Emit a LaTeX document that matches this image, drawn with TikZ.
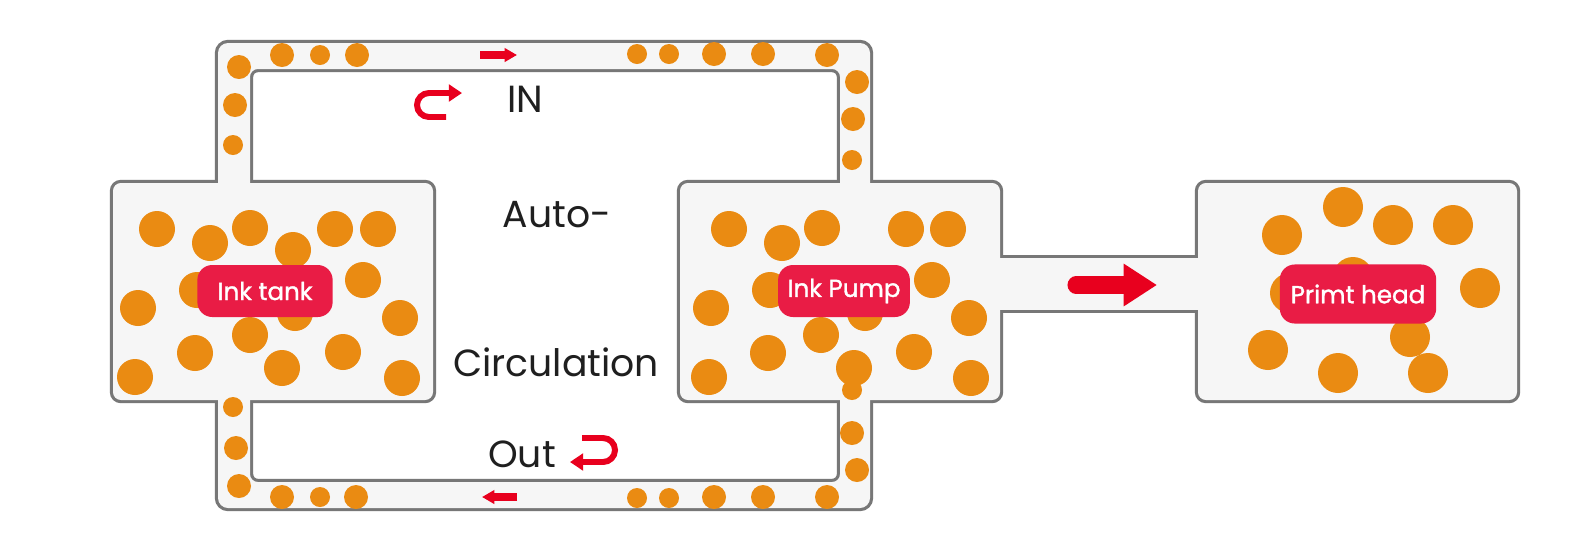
\documentclass[tikz,border=0pt]{standalone}
\usepackage{fontspec}
\setmainfont{Poppins}
\newfontfamily\badgefont{Poppins}[FakeBold=1.3]
\usepackage{tikz}
\usetikzlibrary{arrows.meta}
\definecolor{pipegray}{HTML}{777777}
\definecolor{fluid}{HTML}{F6F6F6}
\definecolor{ink}{HTML}{EA8B12}
\definecolor{flowred}{HTML}{E8001E}
\definecolor{badgered}{HTML}{E91C45}

\begin{document}
\begin{tikzpicture}[
  x=0.02cm, y=-0.02cm,
  outline/.style={draw=pipegray,line width=3.6pt},
  liquid/.style={fill=fluid},
  drop/.style={fill=ink},
  badge/.style={fill=badgered,text=white,rounded corners=8.5pt,inner sep=0pt,
    minimum height=29.6pt,font=\badgefont\fontsize{14}{16}\selectfont},
  lbl/.style={font=\fontsize{21.5}{25}\selectfont,text=black!88,anchor=base},
  flow/.style={draw=flowred,line width=3.4pt},
]
\useasboundingbox (0,0) rectangle (1572,559);
\fill[white] (0,0) rectangle (1572,559);

% walls first, the fill goes over the inner half
\draw[outline,rounded corners=4.5pt] (113,183) rectangle (433,400);
\draw[outline,rounded corners=4.5pt] (680,183) rectangle (1000,400);
\draw[outline,rounded corners=4.5pt] (1198,183) rectangle (1517,400);
\draw[outline] (990,258) rectangle (1210,310);
\draw[outline,rounded corners=5.7pt] (218,43) rectangle (870,508);
\draw[outline,rounded corners=4.5pt] (250,69) rectangle (840,482);

\fill[liquid,rounded corners=4.5pt] (113,183) rectangle (433,400);
\fill[liquid,rounded corners=4.5pt] (680,183) rectangle (1000,400);
\fill[liquid,rounded corners=4.5pt] (1198,183) rectangle (1517,400);
\fill[liquid] (990,258) rectangle (1210,310);
\fill[liquid,even odd rule] [rounded corners=5.7pt] (218,43) rectangle (870,508)
  [rounded corners=4.5pt] (250,69) rectangle (840,482);

% ink drops in the loop
\fill[drop] (239,67) circle[radius=12] (282,55) circle[radius=12] (320,55) circle[radius=10]
  (357,55) circle[radius=12] (637,54) circle[radius=10] (669,54) circle[radius=10]
  (714,54) circle[radius=12] (763,54) circle[radius=12] (827,55) circle[radius=12]
  (235,105) circle[radius=12] (233,145) circle[radius=10]
  (857,82) circle[radius=12] (853,119) circle[radius=12] (852,160) circle[radius=10]
  (233,407) circle[radius=10] (236,448) circle[radius=12] (239,486) circle[radius=12]
  (282,497) circle[radius=12] (320,497) circle[radius=10] (356,497) circle[radius=12]
  (637,498) circle[radius=10] (669,498) circle[radius=10] (714,497) circle[radius=12]
  (763,497) circle[radius=12] (827,497) circle[radius=12]
  (852,433) circle[radius=12] (857,470) circle[radius=12] (852,390) circle[radius=10];
% ink tank
\fill[drop] (157,229) circle[radius=18] (210,243) circle[radius=18] (250,228) circle[radius=18]
  (293,250) circle[radius=18] (335,229) circle[radius=18] (378,229) circle[radius=18]
  (197,290) circle[radius=18] (363,280) circle[radius=18] (138,308) circle[radius=18]
  (295,313) circle[radius=18] (400,318) circle[radius=18] (250,335) circle[radius=18]
  (195,353) circle[radius=18] (343,352) circle[radius=18] (282,368) circle[radius=18]
  (135,377) circle[radius=18] (402,378) circle[radius=18];
% ink pump
\fill[drop] (729,229) circle[radius=18] (782,243) circle[radius=18] (822,228) circle[radius=18]
  (906,229) circle[radius=18] (948,229) circle[radius=18] (770,290) circle[radius=18]
  (932,280) circle[radius=18] (711,308) circle[radius=18] (865,313) circle[radius=18]
  (969,318) circle[radius=18] (821,335) circle[radius=18] (768,353) circle[radius=18]
  (914,352) circle[radius=18] (854,368) circle[radius=18] (709,377) circle[radius=18]
  (971,378) circle[radius=18];
% print head
\fill[drop] (1282,235) circle[radius=20] (1343,207) circle[radius=20] (1393,225) circle[radius=20]
  (1453,225) circle[radius=20] (1353,277) circle[radius=20] (1290,293) circle[radius=20]
  (1480,288) circle[radius=20] (1410,337) circle[radius=20] (1268,350) circle[radius=20]
  (1338,373) circle[radius=20] (1428,373) circle[radius=20];

\node[badge,minimum width=77pt] (tank) at (265,291) {Ink tank};
\node[badge,minimum width=75pt] (pump) at (844,291) {Ink Pump};
\node[badge,minimum width=89pt,minimum height=33.6pt] (head) at (1358,294) {Primt head};

\node[lbl] (in) at (525,112) {IN};
\node[lbl] (auto) at (557,227) {Auto-};
\node[lbl] (circ) at (556,376) {Circulation};
\node[lbl] (out) at (522,467) {Out};

% flow direction
\draw[flow,line width=4pt,-{Triangle[length=7pt,width=7.5pt]}] (480,55) -- (517,55);
\draw[flow,line width=4pt,-{Triangle[length=7pt,width=7.5pt]}] (517,497) -- (482,497);
\draw[flow,-{Triangle[length=7.5pt,width=9.5pt]}] (446,117) -- (429,117)
  arc[start angle=90,end angle=270,radius=12] -- (462,93);
\draw[flow,-{Triangle[length=7.5pt,width=9.5pt]}] (582,438) -- (603,438)
  arc[start angle=-90,end angle=90,radius=12] -- (570,462);
\draw[flow,line width=9.7pt,line cap=round,-{Triangle[length=19pt,width=23pt]}] (1076,285) -- (1157,285);
\end{tikzpicture}
\end{document}
